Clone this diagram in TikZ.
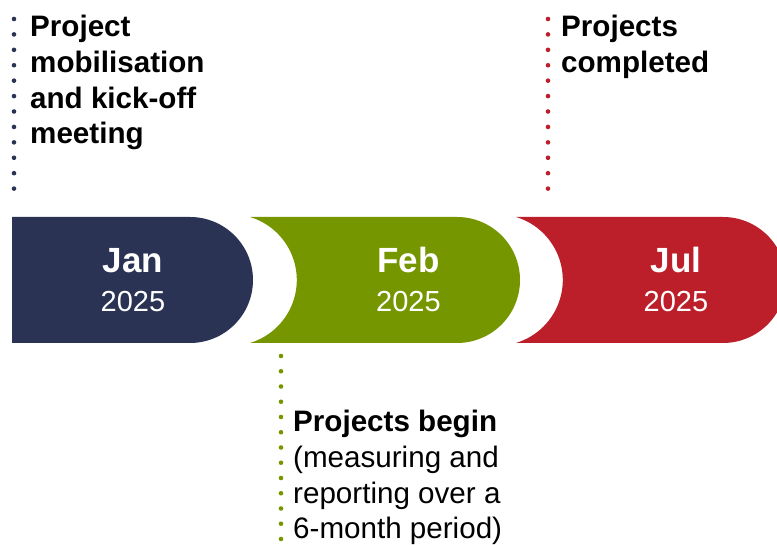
\documentclass[tikz,border=0pt]{standalone}
\usepackage{fontspec}
\setmainfont{Liberation Sans}
\definecolor{navy}{HTML}{2A3353}
\definecolor{leaf}{HTML}{769600}
\definecolor{crimson}{HTML}{BC1F2A}
\begin{document}
\begin{tikzpicture}[x=1pt,y=1pt,
  dotline/.style={line width=4.6pt, line cap=round, dash pattern=on 0pt off 15.42pt},
  note/.style={font=\fontsize{29.6}{35.6}\selectfont, text=black, inner sep=0pt, align=left, anchor=base west},
  month/.style={font=\bfseries\fontsize{35}{40}\selectfont, text=white, inner sep=0pt, anchor=base},
  year/.style={font=\fontsize{29}{34}\selectfont, text=white, inner sep=0pt, anchor=base}]
\useasboundingbox (0,0) rectangle (777,545);
\fill[white] (0,0) rectangle (777,545);
\begin{scope}
\clip (0,0) rectangle (777,545);
% bands
\fill[navy] (12,202) -- (190,202) arc[start angle=-90,end angle=90,radius=63] -- (12,328) -- cycle;
\fill[leaf] (250,202) -- (457,202) arc[start angle=-90,end angle=90,radius=63] -- (250,328)
  arc[start angle=73.2,end angle=-73.2,radius=65.8] -- cycle;
\fill[crimson] (516,202) -- (723,202) arc[start angle=-90,end angle=90,radius=63] -- (516,328)
  arc[start angle=73.2,end angle=-73.2,radius=65.8] -- cycle;
\end{scope}
% month labels
\node[month] (jan) at (133,272) {Jan};
\node[year] (janY) at (133,233) {2025};
\node[month] (feb) at (408.5,272) {Feb};
\node[year] (febY) at (408.5,233) {2025};
\node[month] (jul) at (676,272) {Jul};
\node[year] (julY) at (676,233) {2025};
% markers
\coordinate (janTop) at (14,526);
\coordinate (janBot) at (14,341);
\coordinate (julTop) at (548,526);
\coordinate (julBot) at (548,341);
\coordinate (febTop) at (281,189);
\coordinate (febBot) at (281,-5);
\draw[dotline, navy] (janTop) -- (janBot);
\draw[dotline, crimson] (julTop) -- (julBot);
\draw[dotline, leaf, dash pattern=on 0pt off 15.25pt] (febTop) -- (febBot);
% notes (base anchor = last line's baseline)
\node[note, font=\bfseries\fontsize{29.6}{35.6}\selectfont] (kick) at (30,401.2) {Project\\mobilisation\\and kick-off\\meeting};
\node[note, font=\bfseries\fontsize{29.6}{35.6}\selectfont] (done) at (561,472.4) {Projects\\completed};
\node[note] (begin) at (293,6.2) {\textbf{Projects begin}\\(measuring and\\reporting over a\\6-month period)};
\end{tikzpicture}
\end{document}
